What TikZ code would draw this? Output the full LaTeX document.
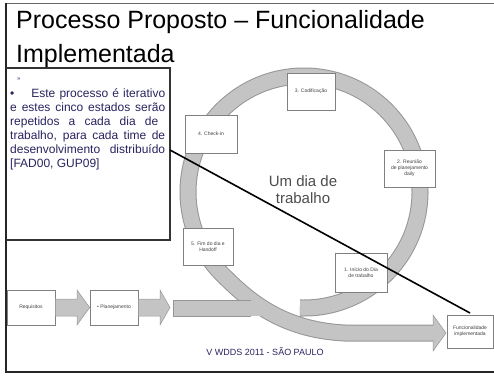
\documentclass[tikz,border=0pt]{standalone}
\usepackage{fontspec}
\setmainfont{Liberation Sans}
\definecolor{navy}{RGB}{40,35,95}
\definecolor{bandfill}{RGB}{196,196,196}
\definecolor{bandedge}{RGB}{150,150,150}
\begin{document}
\begin{tikzpicture}[x=1pt,y=-1pt,
  ringedge/.style={line width=17pt, draw=bandedge},
  ringfill/.style={line width=15pt, draw=bandfill},
  blockarrow/.style={fill=bandfill, draw=bandedge, line width=0.5pt},
  stagebox/.style={draw=black!50, fill=white, line width=0.7pt, align=center,
    font=\fontsize{5}{6}\selectfont, text=black!75, inner sep=1pt},
  titletext/.style={anchor=base west, font=\fontsize{25}{28}\selectfont, inner sep=0pt},
  notetext/.style={anchor=base west, font=\fontsize{12}{14}\selectfont, text=navy, inner sep=0pt},
  frameline/.style={line width=1.6pt, draw=black!85}]
\useasboundingbox (0,0) rectangle (494,375);
% frame
\draw[line width=0.8pt, draw=black!60] (5,3) -- (494,3);
\draw[frameline] (6,3) -- (6,372) -- (494,372);
% title
\node[titletext] (t1) at (16,28) {Processo Proposto – Funcionalidade};
\node[titletext] (t2) at (16,62) {Implementada};
% ring band
\path (304,192) ++(92:116) coordinate (ringstart);
\coordinate (ringtip) at (434,333);
\foreach \st in {ringedge,ringfill}{
  \draw[\st] (ringstart) arc[start angle=92, end angle=-225, radius=116]
     .. controls (246,298) and (280,330) .. (345,333) -- (ringtip);
}
\fill[bandfill, draw=bandedge, line width=0.5pt] (173,300) rectangle (250,316);
\fill[bandfill] (240,300.5) rectangle (262,315.5);
\filldraw[blockarrow] (433,315) -- (446,333) -- (433,351) -- cycle;
\fill[bandfill] (425,325.6) rectangle (434.2,340.4);
% left note box
\draw[line width=1.4pt, draw=black!80] (6,68) -- (170,68) -- (170,240) -- (6,240);
\node[notetext, font=\fontsize{6}{7}\selectfont] (n0) at (17,80) {»};
\node[notetext] (n1) at (10,97) {\makebox[155pt][s]{•\hspace{17pt}Este processo é iterativo}};
\node[notetext] (n2) at (10,111) {\makebox[155pt][s]{e estes cinco estados serão}};
\node[notetext] (n3) at (10,125) {\makebox[148pt][s]{repetidos a cada dia de}};
\node[notetext] (n4) at (10,139) {\makebox[155pt][s]{trabalho, para cada time de}};
\node[notetext] (n5) at (10,153) {\makebox[155pt][s]{desenvolvimento distribuído}};
\node[notetext] (n6) at (10,167) {[FAD00, GUP09]};
% centre text
\node[align=center, font=\fontsize{15}{17}\selectfont, text=black!70] (day) at (303,190) {Um dia de\\trabalho};
% stage boxes
\node[stagebox, minimum width=48pt, minimum height=37pt] (s3) at (311,91.5) {3. Codificação};
\node[stagebox, minimum width=52pt, minimum height=38pt] (s4) at (211,134) {4. Check-in};
\node[stagebox, minimum width=51pt, minimum height=37pt] (s2) at (409.5,168.5) {2. Reunião\\de planejamento\\daily};
\node[stagebox, minimum width=50pt, minimum height=37pt] (s5) at (208,246.5) {5. Fim do dia e\\Handoff};
\node[stagebox, minimum width=52pt, minimum height=39pt] (s1) at (361,272.5) {1. Início do Dia\\de trabalho};
% bottom row
\node[stagebox, minimum width=48pt, minimum height=35pt] (req) at (31,307.5) {Requisitos};
\node[stagebox, minimum width=48pt, minimum height=35pt] (plan) at (114,307.5) {• Planejamento};
\node[stagebox, minimum width=46pt, minimum height=33pt] (func) at (470,331.5) {Funcionalidade\\implementada};
\filldraw[blockarrow] (req.east |- 0,299) -- (77,299) -- (77,290) -- (plan.west |- 0,307.5) -- (77,325) -- (77,316) -- (req.east |- 0,316) -- cycle;
\filldraw[blockarrow] (plan.east |- 0,299) -- (160,299) -- (160,290) -- (170,307.5) -- (160,325) -- (160,316) -- (plan.east |- 0,316) -- cycle;
% diagonal line
\coordinate (la) at (170,150);
\coordinate (lb) at (470,313);
\draw[line width=1.6pt] (la) -- (lb);
% footer
\node[font=\fontsize{9}{10}\selectfont, text=navy] (foot) at (265,352) {V WDDS 2011 - SÃO PAULO};
\end{tikzpicture}
\end{document}
